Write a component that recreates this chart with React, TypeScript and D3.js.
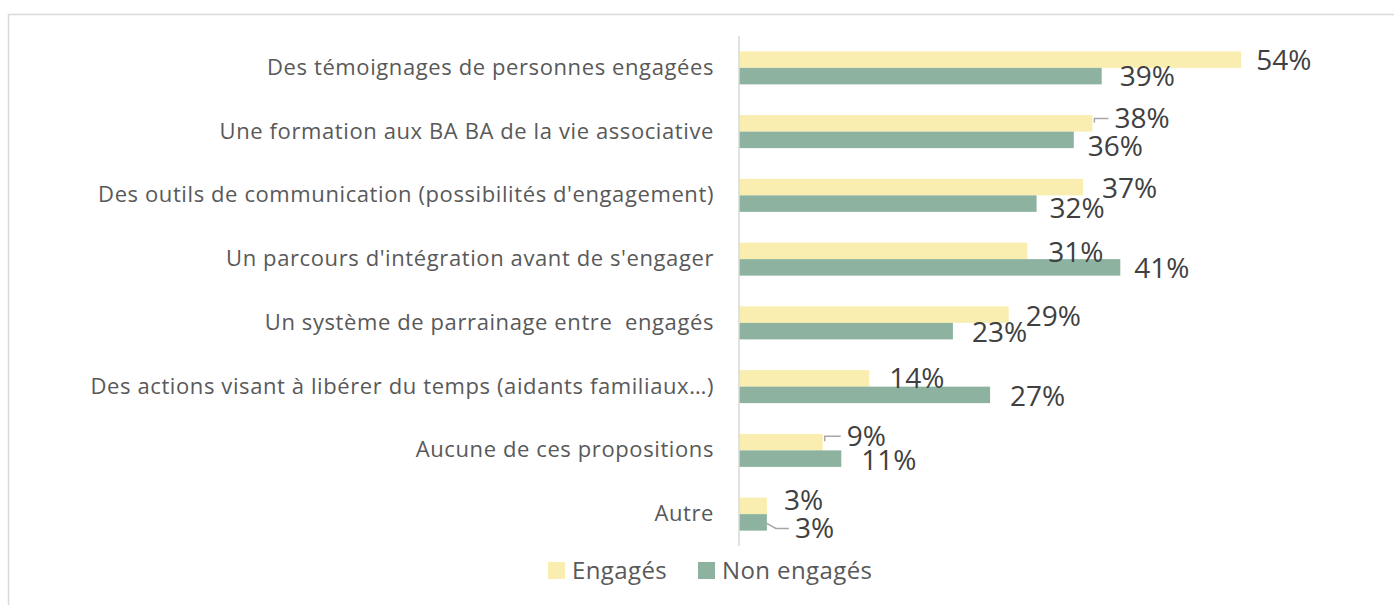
import React from "react";
import * as d3 from "d3";

const categories = [
  "Des témoignages de personnes engagées",
  "Une formation aux BA BA de la vie associative",
  "Des outils de communication (possibilités d'engagement)",
  "Un parcours d'intégration avant de s'engager",
  "Un système de parrainage entre  engagés",
  "Des actions visant à libérer du temps (aidants familiaux…)",
  "Aucune de ces propositions",
  "Autre",
];
const seriesNames = ["Engagés", "Non engagés"];
const engages = [0.54, 0.38, 0.37, 0.31, 0.29, 0.14, 0.09, 0.03];
const nonEngages = [0.39, 0.36, 0.32, 0.41, 0.23, 0.27, 0.11, 0.03];
const colors = ["#F9EEB0", "#8DB3A0"];

// label placement offsets (layout): [dx from bar end, dy from bar centre]
const labelOffsetsEng: [number, number][] = [
  [15, 1], [22, -4], [19, 2], [21, 2], [17, 2], [20, 1], [24, -5], [17, -5],
];
const labelOffsetsNon: [number, number][] = [
  [18, 1], [14, 7], [13, 5], [14, 2], [19, 2], [20, 2], [20, 2], [28, 7],
];
const leaderEng = [false, true, false, false, false, false, true, false];
const leaderNon = [false, false, false, false, false, false, false, true];

const FONT = "'Open Sans', 'DejaVu Sans', sans-serif";

export default function App() {
  const W = 1394;
  const H = 605;
  const x = d3.scaleLinear().domain([0, 0.6]).range([739, 739 + 558]);
  const y = d3.scaleBand<string>().domain(categories).range([36, 546]).paddingInner(0).paddingOuter(0);
  const groupH = 33;
  const sub = d3
    .scaleBand<string>()
    .domain(seriesNames)
    .range([(y.bandwidth() - groupH) / 2, (y.bandwidth() + groupH) / 2]);
  const fmt = d3.format(".0%");
  const series = [
    { name: seriesNames[0], values: engages, offs: labelOffsetsEng, leader: leaderEng, color: colors[0] },
    { name: seriesNames[1], values: nonEngages, offs: labelOffsetsNon, leader: leaderNon, color: colors[1] },
  ];

  return (
    <svg
      width={W}
      height={H}
      style={{ position: "absolute", left: 0, top: 0, display: "block", background: "#fff" }}
    >
      <rect x={8.5} y={14.5} width={1400} height={620} fill="#fff" stroke="#D9D9D9" strokeWidth={1.5} />
      {categories.map((c) => (
        <text
          key={c}
          x={714}
          y={(y(c) as number) + y.bandwidth() / 2 - 2}
          textAnchor="end"
          dominantBaseline="central"
          fontFamily={FONT}
          fontSize={22}
          letterSpacing={0.6}
          fill="#595959"
          style={{ whiteSpace: "pre" }}
        >
          {c}
        </text>
      ))}
      {series.map((s) =>
        categories.map((c, i) => {
          const yy = (y(c) as number) + (sub(s.name) as number);
          const bh = sub.bandwidth();
          return (
            <rect key={s.name + c} x={x(0)} y={yy} width={x(s.values[i]) - x(0)} height={bh} fill={s.color} />
          );
        })
      )}
      <line x1={739} x2={739} y1={36} y2={546} stroke="#D9D9D9" strokeWidth={1.5} />
      {series.map((s) =>
        categories.map((c, i) => {
          const yy = (y(c) as number) + (sub(s.name) as number);
          const cy = yy + sub.bandwidth() / 2;
          const end = x(s.values[i]);
          const lx = end + s.offs[i][0];
          const ly = cy + s.offs[i][1];
          let leader = null;
          if (s.leader[i]) {
            const dir = s.offs[i][1] < 0 ? -1 : 1;
            const p =
              dir < 0
                ? `M${end + 2},${cy - 1}V${ly - 1}H${lx - 6}`
                : `M${end - 2},${cy}L${end + 9},${ly - 1}H${lx - 6}`;
            leader = <path d={p} fill="none" stroke="#A6A6A6" strokeWidth={1.5} />;
          }
          return (
            <g key={"l" + s.name + c}>
              {leader}
              <text
                x={lx}
                y={ly - 2}
                dominantBaseline="central"
                fontFamily={FONT}
                fontSize={28}
                fill="#404040"
              >
                {fmt(s.values[i])}
              </text>
            </g>
          );
        })
      )}
      {/* legend */}
      {[{ x: 548, tx: 572 }, { x: 698, tx: 722 }].map((p, i) => (
        <g key={"lg" + i}>
          <rect x={p.x} y={562} width={17} height={17} fill={colors[i]} />
          <text
            x={p.tx}
            y={569}
            dominantBaseline="central"
            fontFamily={FONT}
            fontSize={24}
            letterSpacing={0.4}
            fill="#595959"
          >
            {seriesNames[i]}
          </text>
        </g>
      ))}
    </svg>
  );
}
